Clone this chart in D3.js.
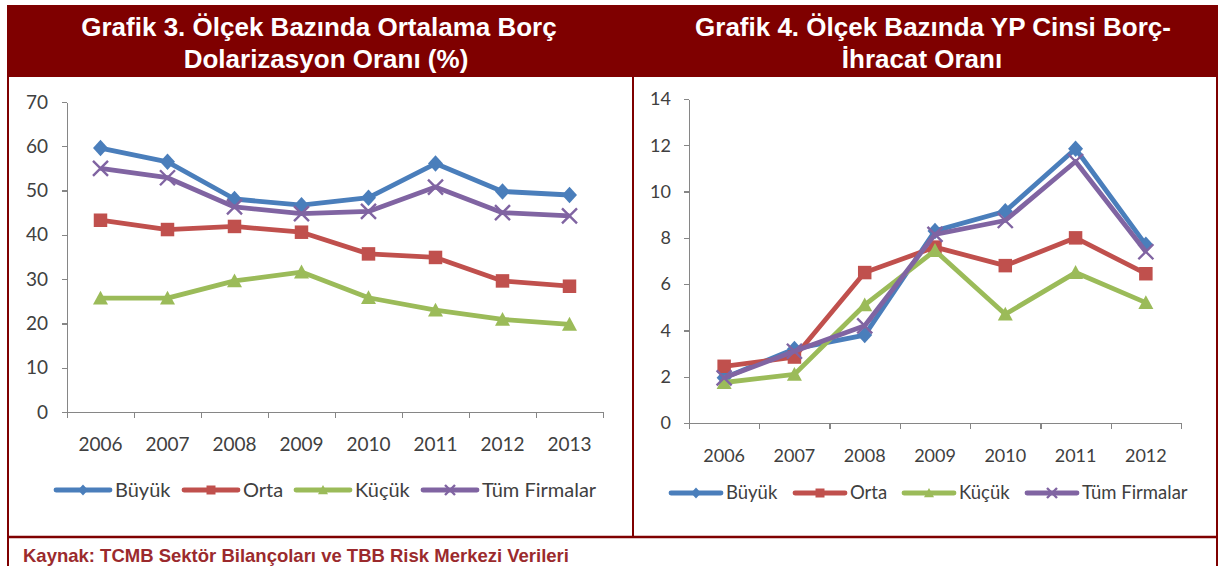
<!DOCTYPE html>
<html>
<head>
<meta charset="utf-8">
<style>
  html, body { margin: 0; padding: 0; background: #fff; }
  svg { display: block; }
  .title { font: bold 26px "Liberation Sans", Arial, sans-serif; fill: #fff; }
  .axis text, .legend text { font-family: Lato, sans-serif; fill: #404040; }
  .axis path, .axis line { stroke: #868686; stroke-width: 1.3; fill: none; shape-rendering: crispEdges; }
  .source { font: bold 18.5px "Liberation Sans", Arial, sans-serif; fill: #9b2a2d; }
</style>
</head>
<body>
<svg id="chart" width="1219" height="566"></svg>
<script src="https://d3js.org/d3.v7.min.js"></script>
<script>
// ---- data ----
var seriesNames = ["Büyük", "Orta", "Küçük", "Tüm Firmalar"];
var seriesColors = ["#4a7ebb", "#c0504d", "#9bbb59", "#8064a2"];
var seriesShapes = ["diamond", "square", "triangle", "x"];

// Grafik 3
var years3 = ["2006", "2007", "2008", "2009", "2010", "2011", "2012", "2013"];
var buyuk3 = [59.6, 56.5, 48.1, 46.7, 48.4, 56.1, 49.8, 49.0];
var orta3  = [43.3, 41.2, 41.9, 40.6, 35.7, 34.9, 29.6, 28.4];
var kucuk3 = [25.7, 25.7, 29.6, 31.6, 25.8, 23.0, 20.9, 19.8];
var tum3   = [55.0, 52.9, 46.3, 44.8, 45.3, 50.8, 45.0, 44.3];
var yTicks3 = [0, 10, 20, 30, 40, 50, 60, 70];

// Grafik 4
var years4 = ["2006", "2007", "2008", "2009", "2010", "2011", "2012"];
var buyuk4 = [1.95, 3.2, 3.8, 8.3, 9.15, 11.85, 7.7];
var orta4  = [2.45, 2.85, 6.5, 7.6, 6.8, 8.0, 6.45];
var kucuk4 = [1.75, 2.1, 5.1, 7.45, 4.7, 6.5, 5.2];
var tum4   = [1.95, 3.1, 4.2, 8.15, 8.75, 11.3, 7.4];
var yTicks4 = [0, 2, 4, 6, 8, 10, 12, 14];

var svg = d3.select("#chart");
var frame = "#7f0000";

// header band and panel frames
svg.append("rect").attr("x", 8).attr("y", 5).attr("width", 1210).attr("height", 72).attr("fill", frame);
svg.append("line").attr("x1", 8).attr("x2", 8).attr("y1", 5).attr("y2", 538).attr("stroke", frame).attr("stroke-width", 2);
svg.append("line").attr("x1", 633).attr("x2", 633).attr("y1", 5).attr("y2", 538).attr("stroke", frame).attr("stroke-width", 2);
svg.append("line").attr("x1", 1217).attr("x2", 1217).attr("y1", 5).attr("y2", 566).attr("stroke", frame).attr("stroke-width", 2);
svg.append("line").attr("x1", 8).attr("x2", 1218).attr("y1", 537).attr("y2", 537).attr("stroke", frame).attr("stroke-width", 2.5);
svg.append("line").attr("x1", 8).attr("x2", 8).attr("y1", 537).attr("y2", 566).attr("stroke", frame).attr("stroke-width", 2);

function title(lines) {
  lines.forEach(function(t, i) {
    svg.append("text").attr("class", "title")
      .attr("x", t[0]).attr("y", 36 + i * 32)
      .attr("text-anchor", "middle").text(t[1]);
  });
}
title([[319, "Grafik 3. Ölçek Bazında Ortalama Borç"], [326, "Dolarizasyon Oranı (%)"]]);
title([[933, "Grafik 4. Ölçek Bazında YP Cinsi Borç-"], [922, "İhracat Oranı"]]);

svg.append("text").attr("class", "source").attr("x", 23).attr("y", 562)
  .text("Kaynak: TCMB Sektör Bilançoları ve TBB Risk Merkezi Verileri");

// excel-like markers, size = width in px
function marker(g, shape, color, size) {
  var s = size / 2, d;
  if (shape === "x") {
    g.append("path")
      .attr("d", "M" + (-s) + "," + (-s) + "L" + s + "," + s + "M" + (-s) + "," + s + "L" + s + "," + (-s))
      .attr("stroke", color).attr("stroke-width", 2.4).attr("fill", "none");
    return;
  }
  if (shape === "diamond") d = "M0," + (-s * 1.1) + "L" + s + ",0L0," + (s * 1.1) + "L" + (-s) + ",0Z";
  else if (shape === "square") d = "M" + (-s * 0.9) + "," + (-s * 0.9) + "h" + (size * 0.9) + "v" + (size * 0.9) + "h" + (-size * 0.9) + "Z";
  else d = "M0," + (-s * 1.0) + "L" + s + "," + (s * 0.85) + "L" + (-s) + "," + (s * 0.85) + "Z";
  g.append("path").attr("d", d).attr("fill", color);
}

function drawChart(opt) {
  var x = d3.scaleBand().domain(opt.years).range([opt.x0, opt.x1]);
  var edge = d3.scaleLinear().domain([0, opt.years.length]).range([opt.x0, opt.x1]);
  var y = d3.scaleLinear().domain([0, d3.max(opt.yTicks)]).range([opt.y0, opt.y1]);

  svg.append("g").attr("class", "axis")
    .attr("transform", "translate(" + opt.x0 + ",0)")
    .call(d3.axisLeft(y).tickValues(opt.yTicks).tickSize(5).tickPadding(opt.yPad).tickSizeOuter(0))
    .selectAll("text").style("font-size", opt.fontSize + "px");

  svg.append("g").attr("class", "axis")
    .attr("transform", "translate(0," + opt.y0 + ")")
    .call(d3.axisBottom(edge).tickValues(d3.range(opt.years.length + 1)).tickSize(6).tickSizeOuter(0).tickFormat(""));

  var lab = svg.append("g").attr("class", "axis")
    .attr("transform", "translate(0," + opt.y0 + ")")
    .call(d3.axisBottom(x).tickSize(0).tickPadding(opt.labelPad));
  lab.select(".domain").remove();
  lab.selectAll("text").style("font-size", opt.fontSize + "px");

  var line = d3.line()
    .x(function(d, i) { return x(opt.years[i]) + x.bandwidth() / 2; })
    .y(function(d) { return y(d); });

  opt.series.forEach(function(vals, k) {
    svg.append("path").datum(vals)
      .attr("d", line)
      .attr("fill", "none")
      .attr("stroke", seriesColors[k])
      .attr("stroke-width", 4.8)
      .attr("stroke-linejoin", "round");
    vals.forEach(function(v, i) {
      var g = svg.append("g")
        .attr("transform", "translate(" + (x(opt.years[i]) + x.bandwidth() / 2) + "," + y(v) + ")");
      marker(g, seriesShapes[k], seriesColors[k], 15);
    });
  });

  // legend
  var lg = svg.append("g").attr("class", "legend");
  seriesNames.forEach(function(name, k) {
    var item = lg.append("g").attr("transform", "translate(" + opt.legendX[k] + "," + opt.legendY + ")");
    item.append("line").attr("x1", 0).attr("x2", opt.legendLen).attr("y1", 0).attr("y2", 0)
      .attr("stroke", seriesColors[k]).attr("stroke-width", 4.8).attr("stroke-linecap", "round");
    var m = item.append("g").attr("transform", "translate(" + (opt.legendLen / 2) + ",0)");
    marker(m, seriesShapes[k], seriesColors[k], 10);
    item.append("text").attr("x", opt.legendLen + 5).attr("y", 0).attr("dy", "0.35em")
      .style("font-size", opt.legendSize + "px").text(name);
  });
}

drawChart({
  years: years3, yTicks: yTicks3,
  series: [buyuk3, orta3, kucuk3, tum3],
  x0: 67, x1: 603, y0: 412, y1: 102, labelPad: 26, yPad: 14, fontSize: 19,
  legendX: [56, 184, 296, 423], legendY: 490, legendLen: 54, legendSize: 20
});

drawChart({
  years: years4, yTicks: yTicks4,
  series: [buyuk4, orta4, kucuk4, tum4],
  x0: 689, x1: 1181, y0: 423, y1: 99, labelPad: 26, yPad: 13, fontSize: 18,
  legendX: [671, 795, 904, 1027], legendY: 493, legendLen: 50, legendSize: 18.5
});
</script>
</body>
</html>
